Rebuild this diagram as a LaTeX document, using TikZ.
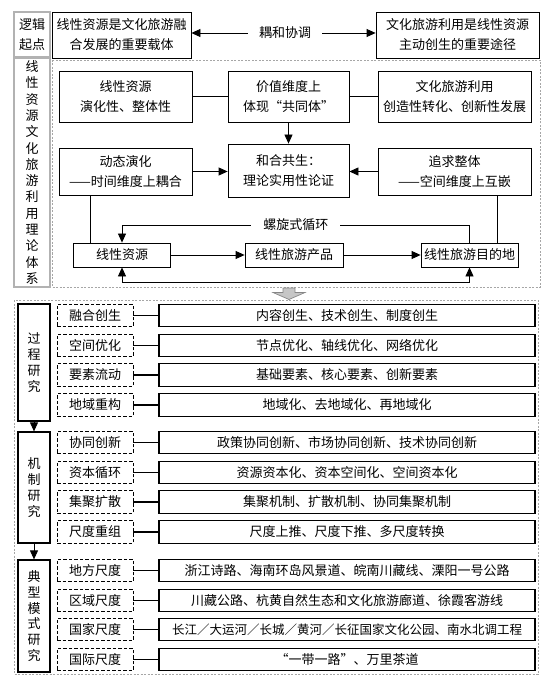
\documentclass[tikz,border=0pt]{standalone}
\usepackage{fontspec}
\setmainfont{Noto Sans CJK SC}
\usetikzlibrary{arrows.meta,positioning}

\tikzset{
  box/.style={draw, line width=0.8pt, align=center, inner sep=0pt},
  graybox/.style={draw=gray!60, line width=1.2pt, align=center, inner sep=0pt},
  colbox/.style={draw, line width=1.2pt, align=center, inner sep=0pt,
    minimum width=32pt, font=\fontsize{13}{15.8}\selectfont},
  tagbox/.style={draw, line width=0.9pt, dash pattern=on 3.5pt off 2pt,
    minimum width=76pt, minimum height=22.5pt, inner sep=0pt},
  rowbox/.style={draw, line width=1.3pt, minimum width=376pt,
    minimum height=22.5pt, inner sep=0pt},
  frame/.style={draw=gray!70, line width=0.6pt, dash pattern=on 2pt off 1.5pt},
  arr/.style={-{Triangle[length=9pt,width=8pt]}, line width=0.8pt},
  arrboth/.style={{Triangle[length=9pt,width=8pt]}-{Triangle[length=9pt,width=8pt]}, line width=0.8pt},
  link/.style={line width=1.2pt}
}

\begin{document}
\begin{tikzpicture}[x=1pt, y=-1pt, font=\fontsize{13}{20}\selectfont]
    \useasboundingbox (0,0) rectangle (551,684);

    % starting point
    \node[graybox, minimum width=36pt, minimum height=45pt] (qd) at (32,34.5) {逻辑\\起点};
    \node[box, minimum width=139pt, minimum height=46pt] (zt) at (121.5,35) {线性资源是文化旅游融\\合发展的重要载体};
    \node[box, minimum width=163pt, minimum height=46pt] (tj) at (457.5,35) {文化旅游利用是线性资源\\主动创生的重要途径};
    \node[inner xsep=11pt, inner ysep=2pt] (oh) at (285,33) {耦和协调};
    \draw[arr] (oh.west) -- (oh.west -| zt.east);
    \draw[arr] (oh.east) -- (oh.east -| tj.west);

    % theory system
    \node[graybox, minimum width=36pt, minimum height=229pt, font=\fontsize{13}{16.3}\selectfont] (tx) at (32,172.5)
        {线\\性\\资\\源\\文\\化\\旅\\游\\利\\用\\理\\论\\体\\系};
    \draw[frame] (52,60) rectangle (540,287);
    \node[box, minimum width=133pt, minimum height=51pt] (xy) at (125.5,96.5) {线性资源\\演化性、整体性};
    \node[box, minimum width=121pt, minimum height=51pt] (jz) at (288.5,96.5) {价值维度上\\体现“共同体”};
    \node[box, minimum width=153pt, minimum height=51pt] (wl) at (454.5,96.5) {文化旅游利用\\创造性转化、创新性发展};
    \node[box, minimum width=133pt, minimum height=47pt] (dt) at (125.5,171.5) {动态演化\\——时间维度上耦合};
    \node[box, minimum width=121pt, minimum height=53pt] (hh) at (288.5,170.5) {和合共生：\\理论实用性论证};
    \node[box, minimum width=153pt, minimum height=47pt] (zq) at (454.5,171.5) {追求整体\\——空间维度上互嵌};
    \node[box, minimum width=97pt, minimum height=24pt] (zy) at (122,255) {线性资源};
    \node[box, minimum width=98pt, minimum height=24pt] (cp) at (294,255) {线性旅游产品};
    \node[box, minimum width=97pt, minimum height=24pt] (md) at (469.5,255) {线性旅游目的地};
    \coordinate (loopline) at (0,225);
    \coordinate (botline) at (0,282);

    \draw (xy.east) -- (jz.west);
    \draw (jz.east) -- (wl.west);
    \draw[arr] (jz.south) -- (hh.north);
    \draw[arr] (dt.east) -- (dt.east -| hh.west);
    \draw[arr] (zq.west) -- (zq.west -| hh.east);
    \draw ([xshift=-35pt]dt.south) -- ([xshift=-35pt]dt.south |- zy.north);
    \draw ([xshift=42.5pt]zq.south) -- ([xshift=42.5pt]zq.south |- md.north);
    \draw[arr] (zy.east) -- (cp.west);
    \draw[arr] (cp.east) -- (md.west);
    \draw[arr] (md.north) -- (md.north |- loopline)
        -- node[fill=white, inner xsep=12pt, inner ysep=1pt] (lx) {螺旋式循环} (zy.north |- loopline) -- (zy.north);
    \draw[arrboth] (zy.south) -- (zy.south |- botline) -- (md.south |- botline) -- (md.south);

    % down arrow
    \filldraw[fill=gray!45, draw=gray!95, line width=0.7pt] (283,288) -- (295,288) -- (295,292.5) -- (305,292.5)
        -- (289,299.5) -- (273,292.5) -- (283,292.5) -- cycle;

    % research contents
    \draw[frame] (14,300) rectangle (538,674);

    % process
    \node[colbox, minimum height=117pt] (gc) at (34,362.5) {过\\程\\研\\究};
    \node[tagbox] (gc1) at (95,315.5) {融合创生};
    \node[rowbox] (gc1r) at (347,315.5) {内容创生、技术创生、制度创生};
    \node[tagbox] (gc2) at (95,345.5) {空间优化};
    \node[rowbox] (gc2r) at (347,345.5) {节点优化、轴线优化、网络优化};
    \node[tagbox] (gc3) at (95,375) {要素流动};
    \node[rowbox] (gc3r) at (347,375) {基础要素、核心要素、创新要素};
    \node[tagbox] (gc4) at (95,405) {地域重构};
    \node[rowbox] (gc4r) at (347,405) {地域化、去地域化、再地域化};

    % mechanism
    \node[colbox, minimum height=111pt] (jzh) at (34,487.5) {机\\制\\研\\究};
    \node[tagbox] (jz1) at (95,442.5) {协同创新};
    \node[rowbox] (jz1r) at (347,442.5) {政策协同创新、市场协同创新、技术协同创新};
    \node[tagbox] (jz2) at (95,472.5) {资本循环};
    \node[rowbox] (jz2r) at (347,472.5) {资源资本化、资本空间化、空间资本化};
    \node[tagbox] (jz3) at (95,502) {集聚扩散};
    \node[rowbox] (jz3r) at (347,502) {集聚机制、扩散机制、协同集聚机制};
    \node[tagbox] (jz4) at (95,532) {尺度重组};
    \node[rowbox] (jz4r) at (347,532) {尺度上推、尺度下推、多尺度转换};

    % typical models
    \node[colbox, minimum height=112pt] (dx) at (34,616) {典\\型\\模\\式\\研\\究};
    \node[tagbox] (dx1) at (95,570.5) {地方尺度};
    \node[rowbox] (dx1r) at (347,570.5) {浙江诗路、海南环岛风景道、皖南川藏线、溧阳一号公路};
    \node[tagbox] (dx2) at (95,600.5) {区域尺度};
    \node[rowbox] (dx2r) at (347,600.5) {川藏公路、杭黄自然生态和文化旅游廊道、徐霞客游线};
    \node[tagbox] (dx3) at (95,629.5) {国家尺度};
    \node[rowbox, font=\fontsize{12.5}{15}\selectfont] (dx3r) at (347,629.5) {长江／大运河／长城／黄河／长征国家文化公园、南水北调工程};
    \node[tagbox] (dx4) at (95,659.5) {国际尺度};
    \node[rowbox] (dx4r) at (347,659.5) {“一带一路”、万里茶道};

    \foreach \r in {gc1,gc2,gc3,gc4,jz1,jz2,jz3,jz4,dx1,dx2,dx3,dx4}
        \draw[link] (\r) -- (\r r);
    \draw[arr] (gc.south) -- (jzh.north);
    \draw[arr] (jzh.south) -- (dx.north);
\end{tikzpicture}
\end{document}
